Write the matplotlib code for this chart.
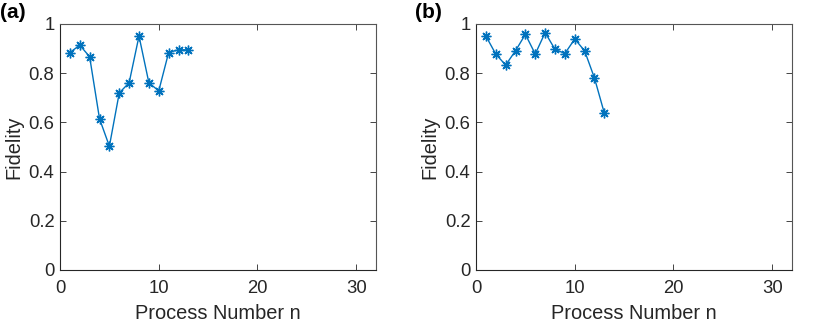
import numpy as np
import matplotlib.pyplot as plt

plt.rcParams['font.family'] = ['Liberation Sans', 'DejaVu Sans']

# Data
n = np.arange(1, 14)
fid_a = [0.884, 0.914, 0.867, 0.615, 0.503, 0.720, 0.761, 0.951, 0.761, 0.728, 0.884, 0.895, 0.895]
fid_b = [0.951, 0.878, 0.833, 0.891, 0.958, 0.878, 0.965, 0.897, 0.880, 0.939, 0.891, 0.780, 0.637]
panel_labels = ['(a)', '(b)']
xticks = [0, 10, 20, 30]
yticks = [0, 0.2, 0.4, 0.6, 0.8, 1]
ytick_labels = ['0', '0.2', '0.4', '0.6', '0.8', '1']

line_color = '#0072BD'
axis_color = '#262626'

fig = plt.figure(figsize=(8.3, 3.23), dpi=100)

positions = [[0.0723, 0.1641, 0.3807, 0.7616],
             [0.5735, 0.1641, 0.3807, 0.7616]]
label_x = [0.0, 0.5]

for pos, data, lab, lx in zip(positions, [fid_a, fid_b], panel_labels, label_x):
    ax = fig.add_axes(pos)
    ax.plot(n, data, color=line_color, linewidth=1.0,
            marker=(8, 2, 0), markersize=7, markeredgewidth=1.0,
            markeredgecolor=line_color)
    ax.set_xlim(0, 32)
    ax.set_ylim(0, 1)
    ax.set_xticks(xticks)
    ax.set_yticks(yticks)
    ax.set_yticklabels(ytick_labels)
    ax.tick_params(direction='in', length=4, width=0.6, top=True, right=True,
                   labelsize=13.3, colors=axis_color, pad=4)
    ax.tick_params(axis='x', pad=7)
    for s in ax.spines.values():
        s.set_color('#555555')
        s.set_linewidth(0.8)
    ax.spines['left'].set_color(axis_color)
    ax.spines['bottom'].set_color(axis_color)
    ax.set_xlabel('Process Number n', fontsize=14.4, color=axis_color, labelpad=5)
    ax.set_ylabel('Fidelity', fontsize=14.4, color=axis_color, labelpad=4)
    fig.text(lx, 1 - 12 / 323, lab, fontsize=15, fontweight='bold',
             ha='left', va='center')

fig.savefig('out.png', dpi=100)
